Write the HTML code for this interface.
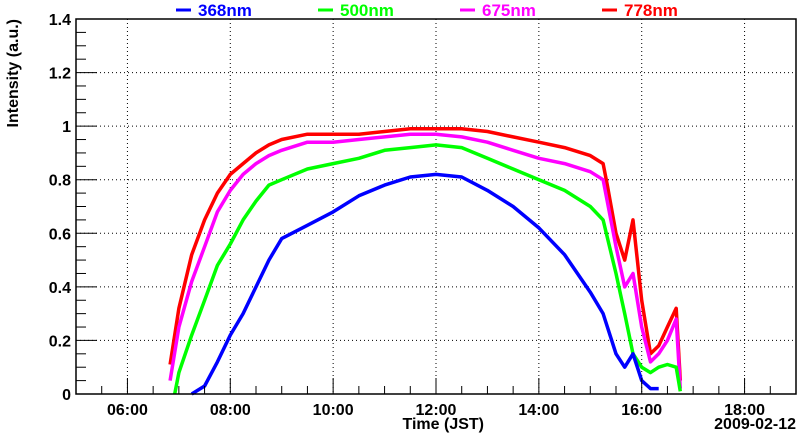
<!DOCTYPE html>
<html><head><meta charset="utf-8"><style>
body{margin:0;background:#fff}
svg{display:block;font-family:"Liberation Sans",sans-serif;font-weight:bold}
</style></head><body>
<svg id="c" width="800" height="434"></svg>
<script>
const hoursMin=5, hoursMax=19;
const tickHours=[6,8,10,12,14,16,18];
const tickLabels=["06:00","08:00","10:00","12:00","14:00","16:00","18:00"];
const yTicks=[0,0.2,0.4,0.6,0.8,1,1.2,1.4];
const yTickLabels=["0","0.2","0.4","0.6","0.8","1","1.2","1.4"];
const seriesNames=["368nm","500nm","675nm","778nm"];
const seriesColors=["#0000ff","#00ff00","#ff00ff","#ff0000"];
const tBlue=[7.25,7.5,7.75,8,8.25,8.5,8.75,9,9.5,10,10.5,11,11.5,12,12.5,13,13.5,14,14.5,15,15.25,15.5,15.67,15.83,16,16.17,16.33];
const vBlue=[0.0,0.03,0.12,0.22,0.30,0.40,0.50,0.58,0.63,0.68,0.74,0.78,0.81,0.82,0.81,0.76,0.70,0.62,0.52,0.38,0.30,0.15,0.10,0.15,0.05,0.02,0.02];
const tGreen=[6.92,7,7.25,7.5,7.75,8,8.25,8.5,8.75,9,9.5,10,10.5,11,11.5,12,12.5,13,13.5,14,14.5,15,15.25,15.5,15.67,15.83,16,16.17,16.33,16.5,16.67,16.75];
const vGreen=[0.0,0.08,0.22,0.35,0.48,0.56,0.65,0.72,0.78,0.80,0.84,0.86,0.88,0.91,0.92,0.93,0.92,0.88,0.84,0.80,0.76,0.70,0.65,0.45,0.30,0.15,0.10,0.08,0.10,0.11,0.10,0.01];
const tMag=[6.83,7,7.25,7.5,7.75,8,8.25,8.5,8.75,9,9.5,10,10.5,11,11.5,12,12.5,13,13.5,14,14.5,15,15.25,15.5,15.67,15.83,16,16.17,16.33,16.5,16.67,16.75];
const vMag=[0.05,0.25,0.42,0.55,0.68,0.76,0.82,0.86,0.89,0.91,0.94,0.94,0.95,0.96,0.97,0.97,0.96,0.94,0.91,0.88,0.86,0.83,0.80,0.55,0.40,0.45,0.25,0.12,0.15,0.20,0.28,0.02];
const tRed=[6.83,7,7.25,7.5,7.75,8,8.25,8.5,8.75,9,9.5,10,10.5,11,11.5,12,12.5,13,13.5,14,14.5,15,15.25,15.33,15.5,15.67,15.83,16,16.17,16.33,16.5,16.67,16.75];
const vRed=[0.11,0.32,0.52,0.65,0.75,0.82,0.86,0.90,0.93,0.95,0.97,0.97,0.97,0.98,0.99,0.99,0.99,0.98,0.96,0.94,0.92,0.89,0.86,0.78,0.60,0.50,0.65,0.35,0.15,0.18,0.25,0.32,0.05];

const L=76,R=796,T=19,B=394;
const xs=h=>L+(h-hoursMin)/(hoursMax-hoursMin)*(R-L);
const ys=v=>B-v/1.4*(B-T);
const svg=document.getElementById('c');
const NS="http://www.w3.org/2000/svg";
function mk(tag,attrs,parent){const e=document.createElementNS(NS,tag);for(const k in attrs)e.setAttribute(k,attrs[k]);(parent||svg).appendChild(e);return e;}

tickHours.forEach(h=>{const g=mk('line',{x1:xs(h),x2:xs(h),y1:T,y2:B,stroke:'#000','stroke-width':1,'stroke-dasharray':'1,3'});

});
yTicks.forEach(v=>{if(v>0&&v<1.4){const g=mk('line',{x1:L,x2:R,y1:ys(v),y2:ys(v),stroke:'#000','stroke-width':1,'stroke-dasharray':'1,3'});

}});

const allT=[tBlue,tGreen,tMag,tRed], allV=[vBlue,vGreen,vMag,vRed];
for(let s=3;s>=0;s--){
  const pts=allT[s].map((t,i)=>xs(t).toFixed(1)+','+ys(allV[s][i]).toFixed(1)).join(' ');
  const p=mk('polyline',{points:pts,fill:'none',stroke:seriesColors[s],'stroke-width':3.5,'stroke-linejoin':'round'});
  
  
}

const fr=mk('rect',{x:L,y:T,width:R-L,height:B-T,fill:'none',stroke:'#000','stroke-width':1.5});



for(let h=hoursMin;h<=hoursMax;h+=0.5){const major=Math.abs(h-Math.round(h/2)*2)<1e-6;
  const t=mk('line',{x1:xs(h),x2:xs(h),y1:B,y2:B-(major?16:8),stroke:'#000','stroke-width':1});
  
  }
tickHours.forEach((h,i)=>{const t=mk('text',{x:xs(h),y:B+21,'font-size':16,'text-anchor':'middle'});t.textContent=tickLabels[i];

});
for(let k=0;k<=28;k++){const v=k*0.05;const major=k%4===0;
  const t=mk('line',{x1:L,x2:L+(major?21:10),y1:ys(v),y2:ys(v),stroke:'#000','stroke-width':1});
  
  }
yTicks.forEach((v,i)=>{const t=mk('text',{x:L-5,y:ys(v)+6,'font-size':16,'text-anchor':'end'});t.textContent=yTickLabels[i];

});

const xt=mk('text',{x:484,y:429,'font-size':16,'text-anchor':'end'});xt.textContent='Time (JST)';


const dt=mk('text',{x:796,y:429,'font-size':16,'text-anchor':'end'});dt.textContent='2009-02-12';


const yt=mk('text',{x:0,y:0,'font-size':16,'text-anchor':'end',transform:'translate(18,19) rotate(-90)'});yt.textContent='Intensity (a.u.)';



const legX=[176,318,460,602];
seriesNames.forEach((n,i)=>{
  const g=mk('g',{});
  
  
  mk('line',{x1:legX[i],x2:legX[i]+15,y1:10,y2:10,stroke:seriesColors[i],'stroke-width':3},g);
  const t=mk('text',{x:legX[i]+22,y:16,'font-size':17,fill:seriesColors[i]},g);t.textContent=n;
});
</script>
</body></html>
